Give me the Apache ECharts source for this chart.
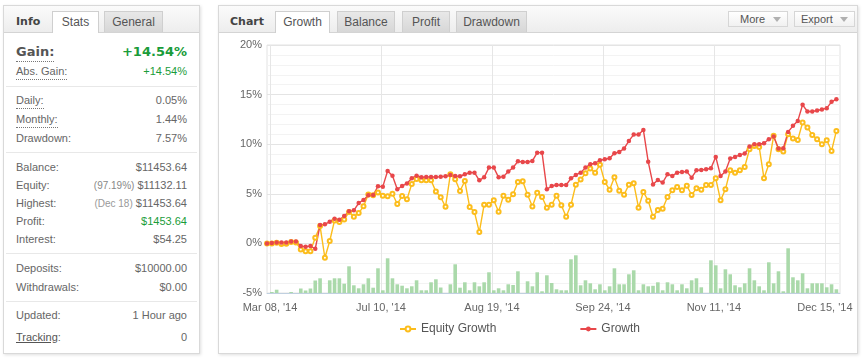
<!DOCTYPE html>
<html>
<head>
<meta charset="utf-8">
<script src="https://cdn.jsdelivr.net/npm/echarts@6/dist/echarts.min.js"></script>
<style>
html,body{margin:0;padding:0;background:#fff;}
body{width:864px;height:361px;position:relative;overflow:hidden;font-family:"Liberation Sans",Arial,sans-serif;font-size:11px;color:#666;}
.panel{position:absolute;background:#fff;border:1px solid #d9d9d9;box-shadow:1px 1px 3px rgba(0,0,0,0.13);box-sizing:border-box;}
.hdr{position:absolute;left:0;top:0;right:0;height:26px;background:linear-gradient(#fbfbfb,#ededed);border-bottom:1px solid #d4d4d4;}
.ttl{position:absolute;top:0;line-height:31px;font-weight:bold;color:#444;font-family:"DejaVu Sans",sans-serif;font-size:11px;}
.tab{position:absolute;top:5px;height:21px;line-height:21px;text-align:center;font-size:12px;color:#555;box-sizing:border-box;border:1px solid #cfcfcf;border-bottom:none;background:linear-gradient(#e8e8e8,#d7d7d7);}
.tab.on{background:#fff;height:22px;z-index:2;}
.row{position:absolute;left:12px;right:12px;height:16px;line-height:16px;white-space:nowrap;}
.row .l{position:absolute;left:0;top:0;}
.row .v{position:absolute;right:0;top:0;}
.dot{border-bottom:1px dotted #777;}
.sep{position:absolute;left:2px;right:2px;height:1px;background:#e8e8e8;}
.sm{font-size:10px;color:#999;}
.g{color:#1a9c3a;}
.big{height:18px;line-height:18px;font-family:"DejaVu Sans",sans-serif;font-weight:bold;font-size:13px;}
.btn{position:absolute;top:5px;height:16px;line-height:15px;box-sizing:border-box;border:1px solid #d6d6d6;background:linear-gradient(#ffffff,#f1f1f1);font-size:11px;color:#555;}
.btn span{position:absolute;top:0;}
.btn i{position:absolute;top:5px;right:6px;width:0;height:0;border-left:4px solid transparent;border-right:4px solid transparent;border-top:5px solid #b0b0b0;}
#chart{position:absolute;left:0;top:0;width:864px;height:361px;z-index:5;pointer-events:none;}
</style>
</head>
<body>
<div class="panel" style="left:3px;top:5px;width:197px;height:349px;">
  <div class="hdr"></div>
  <div class="ttl" style="left:12px;">Info</div>
  <div class="tab on" style="left:48px;width:47px;">Stats</div>
  <div class="tab" style="left:100px;width:59px;">General</div>

  <div class="row big" style="top:37px;color:#555;"><span class="l dot">Gain:</span><span class="v g">+14.54%</span></div>
  <div class="row" style="top:57px;"><span class="l dot">Abs. Gain:</span><span class="v g">+14.54%</span></div>
  <div class="sep" style="top:80px;"></div>
  <div class="row" style="top:86px;"><span class="l dot">Daily:</span><span class="v">0.05%</span></div>
  <div class="row" style="top:105px;"><span class="l dot">Monthly:</span><span class="v">1.44%</span></div>
  <div class="row" style="top:124px;"><span class="l">Drawdown:</span><span class="v">7.57%</span></div>
  <div class="sep" style="top:146px;"></div>
  <div class="row" style="top:153px;"><span class="l">Balance:</span><span class="v">$11453.64</span></div>
  <div class="row" style="top:171px;"><span class="l">Equity:</span><span class="v"><span class="sm" style="color:#888;">(97.19%)</span> $11132.11</span></div>
  <div class="row" style="top:189px;"><span class="l">Highest:</span><span class="v"><span class="sm">(Dec 18)</span> $11453.64</span></div>
  <div class="row" style="top:207px;"><span class="l">Profit:</span><span class="v g">$1453.64</span></div>
  <div class="row" style="top:225px;"><span class="l">Interest:</span><span class="v">$54.25</span></div>
  <div class="sep" style="top:247px;"></div>
  <div class="row" style="top:254px;"><span class="l">Deposits:</span><span class="v">$10000.00</span></div>
  <div class="row" style="top:273px;"><span class="l">Withdrawals:</span><span class="v">$0.00</span></div>
  <div class="sep" style="top:295px;"></div>
  <div class="row" style="top:301px;"><span class="l">Updated:</span><span class="v">1 Hour ago</span></div>
  <div class="row" style="top:323px;"><span class="l"><span style="text-decoration:underline;color:#555;">Tracking</span>:</span><span class="v">0</span></div>
</div>

<div class="panel" style="left:218px;top:5px;width:640px;height:349px;">
  <div class="hdr"></div>
  <div class="ttl" style="left:11px;">Chart</div>
  <div class="tab on" style="left:56px;width:55px;">Growth</div>
  <div class="tab" style="left:118px;width:58px;">Balance</div>
  <div class="tab" style="left:183px;width:48px;">Profit</div>
  <div class="tab" style="left:237px;width:71px;">Drawdown</div>
  <div class="btn" style="left:509px;width:60px;"><span style="left:11px;">More</span><i></i></div>
  <div class="btn" style="left:575px;width:61px;"><span style="left:6px;">Export</span><i></i></div>
</div>

<div id="chart"></div>

<script>
// Tick labels on the time axis and their positions (in trading-day index)
const tickLabels = ["Mar 08, '14", "Jul 10, '14", "Aug 19, '14", "Sep 24, '14", "Nov 11, '14", "Dec 15, '14"];
const tickPos = [0.62, 23.62, 46.62, 69.62, 92.62, 115.62];

// Growth (%) per trading day
const growth = [
  0, 0.03, 0.1, 0.1, 0.1, 0.2, 0.2, -0.27, -0.34, -0.27,
  -0.54, 1.85, 1.92, 2.19, 2.49, 2.39, 2.76, 3.23, 3.33, 4.07,
  4.38, 4.85, 4.88, 5.76, 5.72, 7.31, 6.83, 5.45, 5.79, 6.03,
  6.57, 6.83, 6.67, 6.7, 6.7, 6.7, 6.72, 6.78, 6.9, 6.8,
  6.76, 6.97, 7.13, 7.13, 6.36, 6.66, 7.64, 7.64, 6.66, 6.73,
  7.24, 7.64, 8.28, 8.21, 8.21, 8.31, 9.15, 9.15, 5.45, 5.79,
  5.89, 5.89, 5.89, 6.56, 6.9, 7.13, 7.64, 7.98, 8.08, 8.38,
  8.48, 8.58, 9.09, 9.22, 9.56, 10.33, 10.97, 10.97, 11.44, 8.24,
  5.95, 6.4, 6.13, 6.97, 6.8, 7.13, 7.2, 7.24, 6.63, 7.37,
  7.4, 7.47, 7.57, 8.72, 6.8, 7.24, 8.55, 8.72, 8.92, 9.05,
  9.76, 9.99, 9.99, 10.1, 10.5, 10.77, 9.56, 9.59, 11.24, 11.85,
  12.35, 13.97, 13.3, 13.3, 13.4, 13.5, 13.63, 14.27, 14.54
];

// Equity growth (%) per trading day
const equityGrowth = [
  0, 0, 0.07, -0.07, -0.03, 0.13, 0.1, -0.61, -0.78, -0.78,
  0.57, 1.75, -1.45, 0.24, 2.32, 2.15, 2.42, 3.16, 2.69, 3.06,
  3.74, 4.92, 4.85, 5.12, 4.81, 4.75, 5.01, 3.97, 4.78, 4.44,
  5.99, 6.5, 6.36, 6.36, 6.36, 5.22, 4.65, 3.7, 6.97, 6.46,
  5.28, 6.29, 3.67, 3.16, 1.14, 3.9, 3.9, 4.34, 3.2, 4.81,
  4.41, 4.95, 6.19, 6.26, 4.91, 3.73, 5.11, 4.68, 3.6, 3.9,
  4.81, 3.84, 2.69, 3.9, 5.92, 6.43, 7.07, 7.54, 7.13, 7.94,
  6.19, 5.42, 6.66, 5.32, 4.91, 5.92, 6.06, 3.6, 5.18, 4.31,
  2.68, 3.36, 3.5, 4.68, 5.35, 5.69, 5.35, 5.82, 4.88, 5.55,
  5.42, 5.89, 5.89, 6.56, 4.34, 5.45, 7.37, 7.13, 7.37, 7.71,
  9.49, 9.83, 9.73, 6.56, 7.98, 10.84, 9.49, 9.26, 11.01, 10.57,
  10.43, 12.19, 11.68, 10.94, 10.5, 10.0, 10.4, 9.32, 11.34
];

// Daily activity bars (relative units)
const activity = [
  0, 1, 3.3, 0, 0, 1, 0, 4.5, 2.5, 4.5,
  12.5, 14.7, 0, 12.7, 14.7, 14.7, 9.3, 26.7, 7.7, 4.7,
  8.7, 14.7, 5.3, 24.7, 2.7, 34.7, 14.7, 8.7, 7.3, 4.7,
  6.7, 12.7, 2.7, 2.7, 10.7, 13.7, 5.5, 0, 8.7, 28.7,
  5.3, 10.7, 2.7, 10.7, 6.7, 10.7, 20.7, 2.7, 4.7, 2.7,
  8.7, 8, 21.7, 0, 11.7, 6.7, 20.7, 1.7, 17.7, 10,
  3.7, 2.7, 2.7, 33.7, 37.7, 7.7, 12.7, 9.7, 3.7, 8.7,
  2.7, 6.7, 24.7, 8.7, 8.7, 18.7, 22.7, 2.7, 8.7, 6.7,
  7.2, 10.7, 2.7, 10.7, 8.7, 2.7, 8.7, 4.7, 12.7, 14.7,
  5.7, 0, 32.7, 27.7, 4.7, 23.7, 18.7, 7.7, 5.7, 9.7,
  24.7, 12.7, 6.7, 2.7, 30.7, 9.7, 21.7, 1.7, 44.7, 15.7,
  12.7, 19.7, 4.7, 9.7, 9.7, 9.7, 5.7, 8.7, 3.7
];

const yTicks = {min: -5, max: 20, interval: 5};

const chart = echarts.init(document.getElementById('chart'), null, {renderer: 'canvas'});
const font = 'Liberation Sans';
chart.setOption({
  animation: false,
  backgroundColor: 'transparent',
  textStyle: {fontFamily: font},
  grid: {left: 267, top: 45, width: 573, height: 248, show: true, borderColor: '#e2e2e2', borderWidth: 1,
         backgroundColor: 'transparent', containLabel: false, outerBoundsMode: 'none'},
  legend: {
    data: ['Equity Growth', 'Growth'],
    left: 394, top: 318, itemWidth: 16, itemHeight: 6, itemGap: 83,
    textStyle: {color: '#555', fontSize: 12, fontFamily: font},
    inactiveColor: '#ccc'
  },
  xAxis: {
    type: 'value', min: 0, max: 118.75,
    axisLine: {show: true, onZero: false, lineStyle: {color: '#c0d0e0', width: 1}},
    axisTick: {show: false, customValues: tickPos},
    axisLabel: {
      customValues: tickPos, color: '#666', fontSize: 11, fontFamily: font, margin: 9,
      formatter: function (v) {
        const k = tickPos.findIndex(t => Math.abs(t - v) < 0.01);
        return k >= 0 ? tickLabels[k] : '';
      }
    },
    splitLine: {show: true, lineStyle: {color: '#e6e6e6', width: 1}}
  },
  yAxis: [{
    type: 'value', min: yTicks.min, max: yTicks.max, interval: yTicks.interval,
    axisLine: {show: false}, axisTick: {show: false},
    axisLabel: {formatter: '{value}%', color: '#666', fontSize: 11, fontFamily: font, margin: 5},
    splitLine: {show: true, lineStyle: {color: '#e4e4e4', width: 1}},
    minorTick: {show: true, splitNumber: 5, length: 0, lineStyle: {opacity: 0}},
    minorSplitLine: {show: true, lineStyle: {color: '#f3f3f3', width: 1}}
  }, {
    type: 'value', min: 0, max: 248, show: false, splitLine: {show: false}
  }],
  series: [{
    name: 'activity', type: 'bar', yAxisIndex: 1, barWidth: 3.6, silent: true,
    data: activity.map((v, i) => [i, v]),
    itemStyle: {color: '#aad9aa'}
  }, {
    name: 'Equity Growth', type: 'line', yAxisIndex: 0,
    data: equityGrowth.map((v, i) => [i, v]),
    symbol: 'emptyCircle', symbolSize: 4, showAllSymbol: true,
    lineStyle: {color: '#fcbd1c', width: 1.4},
    itemStyle: {color: '#fcbd1c', borderWidth: 1.2}
  }, {
    name: 'Growth', type: 'line', yAxisIndex: 0,
    data: growth.map((v, i) => [i, v]),
    symbol: 'circle', symbolSize: 4.5, showAllSymbol: true,
    lineStyle: {color: '#e8474a', width: 1.4},
    itemStyle: {color: '#e8474a'}
  }]
});
</script>
</body>
</html>
